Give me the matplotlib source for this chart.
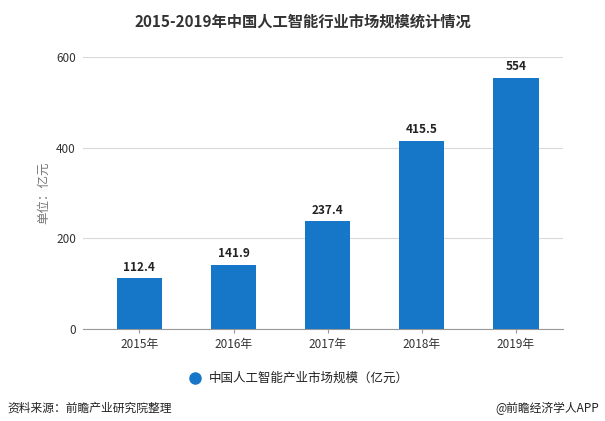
import matplotlib.pyplot as plt
from matplotlib.lines import Line2D

plt.rcParams['font.family'] = ['Noto Sans CJK SC', 'DejaVu Sans']

years = ['2015年', '2016年', '2017年', '2018年', '2019年']
values = [112.4, 141.9, 237.4, 415.5, 554]
labels = ['112.4', '141.9', '237.4', '415.5', '554']

fig = plt.figure(figsize=(6.05, 4.21), dpi=100)
ax = fig.add_axes([0.137, 0.2185, 0.7936, 0.6461])

x = range(len(years))
ax.bar(x, values, width=0.48, color='#1677c8', zorder=3)
for i, v in enumerate(values):
    ax.text(i, v + 10, labels[i], ha='center', va='bottom', fontsize=8.5,
            fontweight='bold', color='#222222')

ax.set_xlim(-0.6, 4.5)
ax.set_ylim(0, 600)
ax.set_yticks([0, 200, 400, 600])
ax.set_xticks(list(x))
ax.set_xticklabels(years)
ax.yaxis.grid(True, color='#d9d9d9', linewidth=0.8, zorder=0)
for s in ['top', 'right', 'left']:
    ax.spines[s].set_visible(False)
ax.spines['bottom'].set_color('#999999')
ax.tick_params(axis='y', length=0, labelsize=8.5, labelcolor='#333333', pad=5)
ax.tick_params(axis='x', length=3, color='#999999', labelsize=8.5, labelcolor='#333333')
ax.set_ylabel('单位：亿元', fontsize=9, color='#777777', labelpad=4)

fig.text(0.5, 0.948, '2015-2019年中国人工智能行业市场规模统计情况', ha='center', va='center',
         fontsize=11, fontweight='bold', color='#333333')

fig.lines.append(Line2D([0.322], [0.102], transform=fig.transFigure, marker='o',
                        markersize=8, color='#1677c8', linestyle='none'))
fig.text(0.345, 0.102, '中国人工智能产业市场规模（亿元）', ha='left', va='center',
         fontsize=9, color='#222222')

fig.text(0.013, 0.03, '资料来源：前瞻产业研究院整理', ha='left', va='center',
         fontsize=8.5, color='#222222')
fig.text(0.99, 0.03, '@前瞻经济学人APP', ha='right', va='center',
         fontsize=8.5, color='#222222')

fig.savefig('out.png', dpi=100)
